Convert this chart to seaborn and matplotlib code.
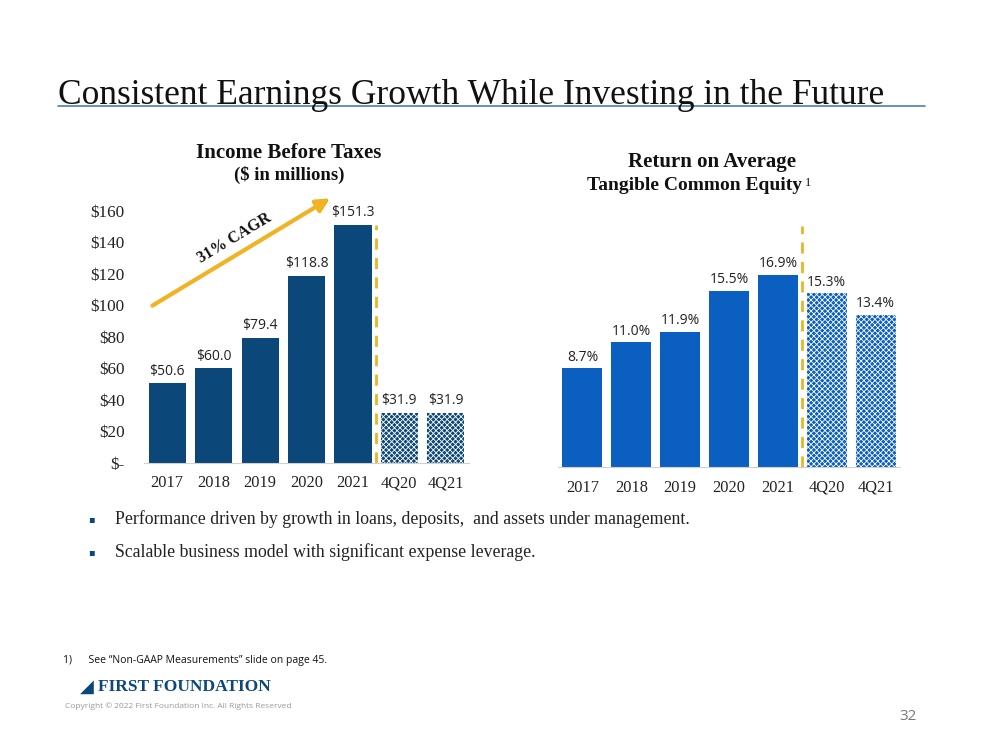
#!/usr/bin/env python

import matplotlib.pyplot as plt
import numpy as np
import pandas as pd
import seaborn as sns

# Chart data.
periods = ["2017", "2018", "2019", "2020", "2021", "4Q20", "4Q21"]
income = [50.6, 60.0, 79.4, 118.8, 151.3, 31.9, 31.9]
income_labels = ["$50.6", "$60.0", "$79.4", "$118.8", "$151.3", "$31.9", "$31.9"]
rotce = [8.7, 11.0, 11.9, 15.5, 16.9, 15.3, 13.4]
rotce_labels = ["8.7%", "11.0%", "11.9%", "15.5%", "16.9%", "15.3%", "13.4%"]
income_ticks = [0, 20, 40, 60, 80, 100, 120, 140, 160]
income_tick_labels = ["$-", "$20", "$40", "$60", "$80", "$100", "$120", "$140", "$160"]
bullets = [
    "Performance driven by growth in loans, deposits,  and assets under management.",
    "Scalable business model with significant expense leverage.",
]

NAVY = "#0b4778"
BLUE = "#0a5fc0"
GOLD = "#f0b323"
SERIF = "Liberation Serif"
SANS = "Open Sans"

sns.set_style("white")
plt.rcParams["hatch.linewidth"] = 0.6

W, H = 999, 750
fig = plt.figure(figsize=(W / 100, H / 100), dpi=100)


def px_axes(x0, y0, x1, y1):
    # Axes from pixel box (top-left origin).
    return fig.add_axes([x0 / W, 1 - y1 / H, (x1 - x0) / W, (y1 - y0) / H])


def draw_bars(ax, values, labels, color, width, ymax, label_pad):
    df = pd.DataFrame({"period": periods, "value": values})
    sns.barplot(
        data=df, x="period", y="value", hue="period", palette=[color] * len(periods),
        width=width, legend=False, ax=ax, saturation=1,
    )
    for i, p in enumerate(ax.patches):
        p.set_linewidth(0)
        if i >= 5:
            p.set_hatch("xxxxxx")
            p.set_edgecolor("white")
    for i, (v, lab) in enumerate(zip(values, labels)):
        ax.text(i, v + label_pad, lab, ha="center", va="bottom", fontsize=10,
                family=SANS, color="#222222")
    ax.set_xlim(-0.5, 6.5)
    ax.set_ylim(0, ymax)
    ax.set_xlabel("")
    ax.set_ylabel("")
    for s in ["top", "right", "left"]:
        ax.spines[s].set_visible(False)
    ax.spines["bottom"].set_color("#d0d0d0")
    ax.tick_params(axis="x", length=0, pad=9, labelsize=11.8, labelcolor="#222222")
    for t in ax.get_xticklabels():
        t.set_family(SERIF)


# Left chart: income before taxes.
ax1 = px_axes(144, 211, 469, 463)
draw_bars(ax1, income, income_labels, NAVY, 0.8, 160, 3)
ax1.set_yticks(income_ticks)
ax1.set_yticklabels(income_tick_labels, family=SERIF)
ax1.tick_params(axis="y", length=0, pad=14, labelsize=12.3, labelcolor="#222222")
ax1.plot([4.5, 4.5], [0, 151], color=GOLD, lw=2, ls=(0, (4, 3)))
ax1.annotate("", xy=(3.56, 169), xytext=(-0.37, 99),
             arrowprops=dict(arrowstyle="-|>,head_length=0.8,head_width=0.4",
                             color=GOLD, lw=3), annotation_clip=False)
ax1.text(1.45, 143, "31% CAGR", rotation=31, ha="center", va="center",
         fontsize=11.5, weight="bold", family=SERIF, color="#111111")

# Right chart: ROATCE.
ax2 = px_axes(558, 226, 900, 467)
draw_bars(ax2, rotce, rotce_labels, BLUE, 0.82, 21.2, 0.3)
ax2.set_yticks([])
ax2.set_xticks(np.arange(-0.5, 7.0, 1.0), minor=True)
ax2.tick_params(axis="x", which="minor", length=5, color="#d0d0d0", direction="out")
ax2.plot([4.5, 4.5], [0, 21.2], color=GOLD, lw=2, ls=(0, (4, 3)))

# Subplot titles.
fig.text(289 / W, 1 - 153 / H, "Income Before Taxes", ha="center", va="center",
         fontsize=15, weight="bold", family=SERIF, color="#111111")
fig.text(289 / W, 1 - 175 / H, "($ in millions)", ha="center", va="center",
         fontsize=13.5, weight="bold", family=SERIF, color="#111111")
fig.text(712 / W, 1 - 162 / H, "Return on Average", ha="center", va="center",
         fontsize=15, weight="bold", family=SERIF, color="#111111")
fig.text(802 / W, 1 - 186 / H, "Tangible Common Equity", ha="right",
         va="center", fontsize=14, weight="bold", family=SERIF, color="#111111")
fig.text(805 / W, 1 - 183 / H, "1", ha="left", va="center", fontsize=9,
         family=SERIF, color="#111111")

# Slide title and rule.
fig.text(58 / W, 1 - 104 / H, "Consistent Earnings Growth While Investing in the Future",
         ha="left", va="baseline", fontsize=25.5, family=SERIF, color="#111111")
fig.add_artist(plt.Line2D([58 / W, 925 / W], [1 - 106 / H] * 2, color="#4a7fa8", lw=1.2))

# Bullets.
for k, txt in enumerate(bullets):
    y = 1 - (519 + 33 * k) / H
    fig.text(91 / W, y, "\u25aa", ha="center", va="center", fontsize=7, color=NAVY)
    fig.text(115 / W, y, txt, ha="left", va="center", fontsize=12.8,
             family=SERIF, color="#222222")

# Footer.
fig.text(63 / W, 1 - 660 / H, "1)      See \u201cNon-GAAP Measurements\u201d slide on page 45.",
         ha="left", va="center", fontsize=7.5, family=SANS, color="#111111")
fig.text(80 / W, 1 - 687 / H, "\u25e2", ha="left", va="center", fontsize=13, color=NAVY)
fig.text(98 / W, 1 - 687 / H, "FIRST FOUNDATION", ha="left", va="center",
         fontsize=12.5, weight="bold", family=SERIF, color=NAVY)
fig.text(65 / W, 1 - 706 / H, "Copyright \u00a9 2022 First Foundation Inc. All Rights Reserved",
         ha="left", va="center", fontsize=6, family=SANS, color="#999999")
fig.text(917 / W, 1 - 716 / H, "32", ha="right", va="center", fontsize=11,
         family=SANS, color="#777777")

fig.savefig("out.png", dpi=100)
